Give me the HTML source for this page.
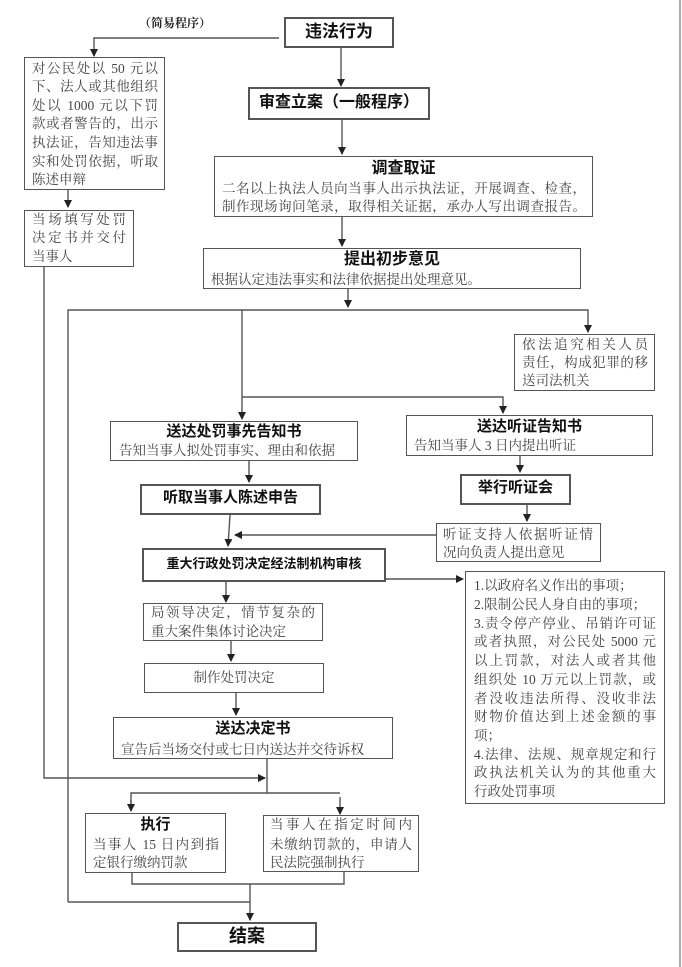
<!DOCTYPE html>
<html><head><meta charset="utf-8"><style>
body{margin:0;background:#fff;}
#c{position:relative;width:682px;height:967px;overflow:hidden;font-family:"Liberation Serif","Noto Serif CJK SC","Noto Sans CJK SC",serif;color:#444;}
.b{position:absolute;border:1.5px solid #555;box-sizing:border-box;background:#fff;}
.t{position:absolute;white-space:nowrap;font-size:13.5px;line-height:18px;}
.j{text-align:justify;text-align-last:justify;}
.h{position:absolute;white-space:nowrap;font-weight:bold;color:#111;font-family:"Liberation Sans","Noto Sans CJK SC",sans-serif;line-height:20px;text-align:center;}
svg{position:absolute;left:0;top:0;}
</style></head><body><div id="c">
<svg width="682" height="967">
<defs><marker id="a" markerWidth="8" markerHeight="8" refX="7" refY="4" orient="auto" markerUnits="userSpaceOnUse"><path d="M0,0 L8,4 L0,8 z" fill="#222"/></marker></defs>
<g stroke="#555" stroke-width="1.4" fill="none">
<line x1="680" y1="0" x2="680" y2="967" stroke="#888"/>
<polyline points="279,38 94,38 94,56" marker-end="url(#a)"/>
<line x1="68" y1="190" x2="68" y2="207" marker-end="url(#a)"/>
<polyline points="44,258 44,778 265,778" marker-end="url(#a)"/>
<line x1="341" y1="48" x2="341" y2="86" marker-end="url(#a)"/>
<line x1="342" y1="120" x2="342" y2="154" marker-end="url(#a)"/>
<line x1="342" y1="217" x2="342" y2="246" marker-end="url(#a)"/>
<line x1="348" y1="289" x2="348" y2="307" marker-end="url(#a)"/>
<polyline points="68,902 68,310 588,310 588,332" marker-end="url(#a)"/>
<line x1="242" y1="310" x2="242" y2="419" marker-end="url(#a)"/>
<polyline points="242,397 503,397 503,413" marker-end="url(#a)"/>
<line x1="249" y1="461" x2="249" y2="482" marker-end="url(#a)"/>
<line x1="520" y1="456" x2="520" y2="472" marker-end="url(#a)"/>
<line x1="527" y1="505" x2="527" y2="521" marker-end="url(#a)"/>
<line x1="436" y1="535" x2="235" y2="535" marker-end="url(#a)"/>
<line x1="230" y1="515" x2="228" y2="546" marker-end="url(#a)"/>
<line x1="386" y1="579" x2="463" y2="579" marker-end="url(#a)"/>
<line x1="226" y1="582" x2="226" y2="602" marker-end="url(#a)"/>
<line x1="231" y1="641" x2="231" y2="661" marker-end="url(#a)"/>
<line x1="236" y1="693" x2="236" y2="715" marker-end="url(#a)"/>
<line x1="267" y1="759" x2="267" y2="793"/>
<polyline points="131,811 131,793 340,793"/>
<line x1="131" y1="800" x2="131" y2="811" marker-end="url(#a)"/>
<line x1="340" y1="797" x2="340" y2="814" marker-end="url(#a)"/>
<polyline points="132,873 132,884 344,884 344,872"/>
<line x1="68" y1="902" x2="250" y2="902"/>
<line x1="250" y1="884" x2="250" y2="920" marker-end="url(#a)"/>
</g></svg>

<div class="t" style="left:139px;top:14px;font-weight:bold;font-size:12px;color:#222">（简易程序）</div>

<div class="b" style="left:284px;top:17px;width:110px;height:31px;border-width:2px"></div>
<div class="h" style="left:284px;top:22px;width:110px;font-size:17px">违法行为</div>

<div class="b" style="left:24px;top:57px;width:141px;height:133px"></div>
<div class="t j" style="left:32px;top:60px;width:126px">对公民处以 50 元以</div>
<div class="t j" style="left:32px;top:78px;width:126px">下、法人或其他组织</div>
<div class="t j" style="left:32px;top:97px;width:126px">处以 1000 元以下罚</div>
<div class="t j" style="left:32px;top:115px;width:126px">款或者警告的，出示</div>
<div class="t j" style="left:32px;top:134px;width:126px">执法证，告知违法事</div>
<div class="t j" style="left:32px;top:153px;width:126px">实和处罚依据，听取</div>
<div class="t" style="left:32px;top:171px">陈述申辩</div>

<div class="b" style="left:24px;top:210px;width:110px;height:57px"></div>
<div class="t j" style="left:32px;top:211px;width:94px">当场填写处罚</div>
<div class="t j" style="left:32px;top:229px;width:94px">决定书并交付</div>
<div class="t" style="left:32px;top:248px">当事人</div>

<div class="b" style="left:248px;top:87px;width:182px;height:33px;border-width:2px"></div>
<div class="h" style="left:248px;top:93px;width:182px;font-size:16px">审查立案（一般程序）</div>

<div class="b" style="left:214px;top:156px;width:379px;height:61px"></div>
<div class="h" style="left:214px;top:159px;width:379px;font-size:16px">调查取证</div>
<div class="t j" style="left:222px;top:180px;width:364px">二名以上执法人员向当事人出示执法证，开展调查、检查，</div>
<div class="t j" style="left:222px;top:198px;width:364px">制作现场询问笔录，取得相关证据，承办人写出调查报告。</div>

<div class="b" style="left:203px;top:248px;width:378px;height:41px"></div>
<div class="h" style="left:203px;top:250px;width:378px;font-size:16px">提出初步意见</div>
<div class="t" style="left:211px;top:271px">根据认定违法事实和法律依据提出处理意见。</div>

<div class="b" style="left:514px;top:334px;width:141px;height:57px"></div>
<div class="t j" style="left:522px;top:336px;width:126px">依法追究相关人员</div>
<div class="t j" style="left:522px;top:354px;width:126px">责任，构成犯罪的移</div>
<div class="t" style="left:522px;top:372px">送司法机关</div>

<div class="b" style="left:110px;top:421px;width:248px;height:40px"></div>
<div class="h" style="left:110px;top:422px;width:248px;font-size:15px">送达处罚事先告知书</div>
<div class="t" style="left:119px;top:442px">告知当事人拟处罚事实、理由和依据</div>

<div class="b" style="left:406px;top:415px;width:247px;height:41px"></div>
<div class="h" style="left:406px;top:417px;width:247px;font-size:15px">送达听证告知书</div>
<div class="t" style="left:414px;top:437px">告知当事人 3 日内提出听证</div>

<div class="b" style="left:140px;top:484px;width:181px;height:31px;border-width:2px"></div>
<div class="h" style="left:140px;top:488px;width:181px;font-size:15px">听取当事人陈述申告</div>

<div class="b" style="left:460px;top:474px;width:111px;height:31px;border-width:2px"></div>
<div class="h" style="left:460px;top:478px;width:111px;font-size:15px">举行听证会</div>

<div class="b" style="left:436px;top:523px;width:165px;height:39px"></div>
<div class="t j" style="left:443px;top:526px;width:150px">听证支持人依据听证情</div>
<div class="t" style="left:443px;top:544px">况向负责人提出意见</div>

<div class="b" style="left:142px;top:548px;width:244px;height:34px;border-width:2px"></div>
<div class="h" style="left:142px;top:554px;width:244px;font-size:13px">重大行政处罚决定经法制机构审核</div>

<div class="b" style="left:465px;top:571px;width:200px;height:233px"></div>
<div class="t" style="left:474px;top:577px">1.以政府名义作出的事项；</div>
<div class="t" style="left:474px;top:596px">2.限制公民人身自由的事项；</div>
<div class="t j" style="left:474px;top:615px;width:182px">3.责令停产停业、吊销许可证</div>
<div class="t j" style="left:474px;top:633px;width:182px">或者执照，对公民处 5000 元</div>
<div class="t j" style="left:474px;top:652px;width:182px">以上罚款，对法人或者其他</div>
<div class="t j" style="left:474px;top:671px;width:182px">组织处 10 万元以上罚款，或</div>
<div class="t j" style="left:474px;top:690px;width:182px">者没收违法所得、没收非法</div>
<div class="t j" style="left:474px;top:708px;width:182px">财物价值达到上述金额的事</div>
<div class="t" style="left:474px;top:727px">项；</div>
<div class="t j" style="left:474px;top:746px;width:182px">4.法律、法规、规章规定和行</div>
<div class="t j" style="left:474px;top:764px;width:182px">政执法机关认为的其他重大</div>
<div class="t" style="left:474px;top:783px">行政处罚事项</div>

<div class="b" style="left:143px;top:603px;width:180px;height:38px"></div>
<div class="t j" style="left:151px;top:604px;width:164px">局领导决定，情节复杂的</div>
<div class="t" style="left:151px;top:623px">重大案件集体讨论决定</div>

<div class="b" style="left:144px;top:663px;width:180px;height:30px"></div>
<div class="t" style="left:144px;top:669px;width:180px;text-align:center">制作处罚决定</div>

<div class="b" style="left:113px;top:717px;width:280px;height:42px"></div>
<div class="h" style="left:113px;top:719px;width:280px;font-size:15px">送达决定书</div>
<div class="t" style="left:121px;top:741px">宣告后当场交付或七日内送达并交待诉权</div>

<div class="b" style="left:85px;top:813px;width:141px;height:60px"></div>
<div class="h" style="left:85px;top:815px;width:141px;font-size:15px">执行</div>
<div class="t j" style="left:93px;top:836px;width:126px">当事人 15 日内到指</div>
<div class="t" style="left:93px;top:854px">定银行缴纳罚款</div>

<div class="b" style="left:263px;top:815px;width:156px;height:57px"></div>
<div class="t j" style="left:270px;top:816px;width:142px">当事人在指定时间内</div>
<div class="t j" style="left:270px;top:836px;width:142px">未缴纳罚款的，申请人</div>
<div class="t" style="left:270px;top:854px">民法院强制执行</div>

<div class="b" style="left:177px;top:922px;width:140px;height:30px;border-width:2px"></div>
<div class="h" style="left:177px;top:926px;width:140px;font-size:18px">结案</div>
</div></body></html>
